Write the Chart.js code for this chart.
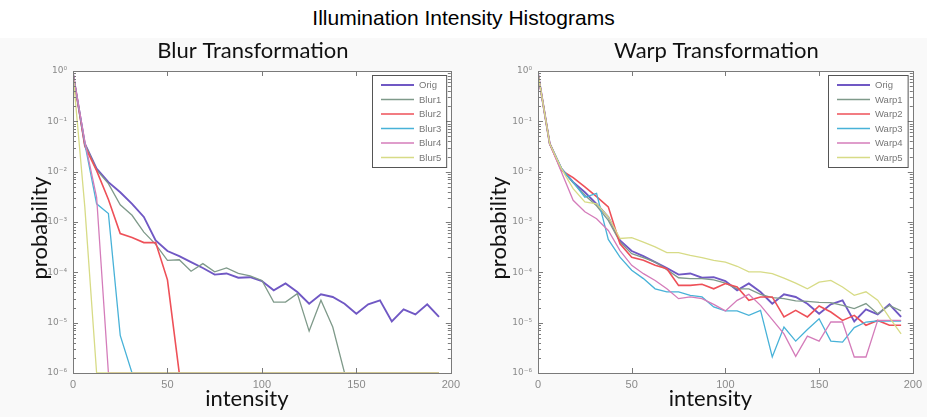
<!DOCTYPE html>
<html><head><meta charset="utf-8">
<script src="https://cdn.jsdelivr.net/npm/chart.js@4/dist/chart.umd.min.js"></script>
<style>
html,body{margin:0;padding:0;background:#fff;width:927px;height:417px;overflow:hidden;}
#main{position:absolute;left:0;top:6px;width:927px;text-align:center;font:21px "Liberation Sans",Arial,sans-serif;color:#000;line-height:24px;}
#fig{position:absolute;left:0;top:38px;width:927px;height:379px;background:#f9f9f9;}
canvas{position:absolute;top:0;}
</style></head><body>
<div id="main">Illumination Intensity Histograms</div>
<div id="fig"><canvas id="c1" width="465" height="379" style="left:0px"></canvas><canvas id="c2" width="462" height="379" style="left:465px"></canvas></div>
<script>
// ---- data ----
const intensity = [0, 6.25, 12.5, 18.75, 25, 31.25, 37.5, 43.75, 50, 56.25, 62.5, 68.75, 75, 81.25, 87.5, 93.75,
  100, 106.25, 112.5, 118.75, 125, 131.25, 137.5, 143.75, 150, 156.25, 162.5, 168.75, 175, 181.25, 187.5, 193.75];

const orig = [0.9, 0.036, 0.0115, 0.0062, 0.0039, 0.0023, 0.00126, 0.00043, 0.000265, 0.00021, 0.00016, 0.000122, 0.00009, 0.000095, 0.000078, 0.00008,
  0.000067, 4.4e-5, 6.0e-5, 4.07e-5, 2.38e-5, 3.66e-5, 3.24e-5, 2.38e-5, 1.51e-5, 2.31e-5, 2.78e-5, 1.06e-5, 1.84e-5, 1.46e-5, 2.31e-5, 1.30e-5];

const blur1 = [0.9, 0.036, 0.0108, 0.0058, 0.0022, 0.00136, 0.00063, 0.00036, 0.000173, 0.000178, 0.000105, 0.000149, 0.000102, 0.000122, 0.000095, 0.000085,
  0.000069, 2.57e-5, 2.57e-5, 3.77e-5, 6.8e-6, 2.78e-5, 8.2e-6, 1e-6, 1e-6, 1e-6, 1e-6, 1e-6, 1e-6, 1e-6, 1e-6, 1e-6];
const blur2 = [0.9, 0.032, 0.0105, 0.0028, 0.00059, 0.00049, 0.00039, 0.00039, 7.1e-5, 1e-6, 1e-6, 1e-6, 1e-6, 1e-6, 1e-6, 1e-6,
  1e-6, 1e-6, 1e-6, 1e-6, 1e-6, 1e-6, 1e-6, 1e-6, 1e-6, 1e-6, 1e-6, 1e-6, 1e-6, 1e-6, 1e-6, 1e-6];
const blur3 = [0.9, 0.036, 0.0023, 0.00147, 5.6e-6, 1e-6, 1e-6, 1e-6, 1e-6, 1e-6, 1e-6, 1e-6, 1e-6, 1e-6, 1e-6, 1e-6,
  1e-6, 1e-6, 1e-6, 1e-6, 1e-6, 1e-6, 1e-6, 1e-6, 1e-6, 1e-6, 1e-6, 1e-6, 1e-6, 1e-6, 1e-6, 1e-6];
const blur4 = [0.9, 0.04, 0.0031, 1e-6, 1e-6, 1e-6, 1e-6, 1e-6, 1e-6, 1e-6, 1e-6, 1e-6, 1e-6, 1e-6, 1e-6, 1e-6,
  1e-6, 1e-6, 1e-6, 1e-6, 1e-6, 1e-6, 1e-6, 1e-6, 1e-6, 1e-6, 1e-6, 1e-6, 1e-6, 1e-6, 1e-6, 1e-6];
const blur5 = [0.9, 0.002, 1e-6, 1e-6, 1e-6, 1e-6, 1e-6, 1e-6, 1e-6, 1e-6, 1e-6, 1e-6, 1e-6, 1e-6, 1e-6, 1e-6,
  1e-6, 1e-6, 1e-6, 1e-6, 1e-6, 1e-6, 1e-6, 1e-6, 1e-6, 1e-6, 1e-6, 1e-6, 1e-6, 1e-6, 1e-6, 1e-6];

const warp1 = [0.9, 0.036, 0.0115, 0.006, 0.0034, 0.0021, 0.00108, 0.0004, 0.000235, 0.000196, 0.00016, 0.000113, 7.8e-5, 7.5e-5, 7.5e-5, 7.1e-5,
  6.1e-5, 4.7e-5, 4.7e-5, 3.66e-5, 3.13e-5, 3.0e-5, 2.7e-5, 2.66e-5, 2.54e-5, 2.5e-5, 2.2e-5, 1.9e-5, 2.4e-5, 1.51e-5, 2.2e-5, 1.71e-5];
const warp2 = [0.9, 0.036, 0.0106, 0.0076, 0.005, 0.0032, 0.002, 0.00037, 0.0002, 0.000173, 0.000138, 0.000118, 5.5e-5, 5.5e-5, 5.8e-5, 4.7e-5,
  6.0e-5, 5.1e-5, 2.78e-5, 3.24e-5, 3.24e-5, 1.30e-5, 1.76e-5, 1.30e-5, 2.14e-5, 1.63e-5, 1.11e-5, 1.40e-5, 8.9e-6, 1.11e-5, 8.9e-6, 8.9e-6];
const warp3 = [0.9, 0.036, 0.0115, 0.0062, 0.0031, 0.0037, 0.00045, 0.0002, 0.00011, 7.5e-5, 4.7e-5, 4.1e-5, 4.1e-5, 3.5e-5, 3.24e-5, 2.05e-5,
  1.71e-5, 1.71e-5, 1.40e-5, 1.76e-5, 2.08e-6, 8.2e-6, 4.3e-6, 7.3e-6, 1.2e-5, 4.3e-6, 4.1e-6, 8.0e-6, 1.03e-5, 1.08e-5, 1.08e-5, 1.08e-5];
const warp4 = [0.9, 0.036, 0.0098, 0.0027, 0.0016, 0.00116, 0.00068, 0.00027, 0.000138, 9.4e-5, 6.9e-5, 4.7e-5, 3.0e-5, 3.24e-5, 3.0e-5, 2.31e-5,
  1.71e-5, 2.78e-5, 3.66e-5, 2.21e-5, 1.15e-5, 6.0e-6, 2.14e-6, 5.4e-6, 4.3e-6, 1.03e-5, 1.03e-5, 2.08e-6, 2.08e-6, 1.11e-5, 1.11e-5, 1.11e-5];
const warp5 = [0.9, 0.036, 0.0115, 0.0046, 0.0025, 0.0023, 0.00126, 0.00047, 0.00049, 0.0004, 0.00032, 0.000246, 0.000246, 0.000218, 0.000196, 0.000173,
  0.00016, 0.000132, 0.000102, 0.000102, 0.000094, 0.000077, 0.000061, 0.000047, 0.000064, 0.000069, 0.000051, 0.000035, 0.000041, 0.000028, 1.26e-5, 6.0e-6];

const blurLabels = ['Orig', 'Blur1', 'Blur2', 'Blur3', 'Blur4', 'Blur5'];
const warpLabels = ['Orig', 'Warp1', 'Warp2', 'Warp3', 'Warp4', 'Warp5'];
const yTickValues = [1e-6, 1e-5, 1e-4, 1e-3, 1e-2, 1e-1, 1];
const yTickLabels = ['10\u207B\u2076', '10\u207B\u2075', '10\u207B\u2074', '10\u207B\u00B3', '10\u207B\u00B2', '10\u207B\u00B9', '10\u2070'];
const xTickValues = [0, 50, 100, 150, 200];

// ---- styles ----
const colors = ['#7058c4', '#7f9a8a', '#ee5058', '#48b2d8', '#d47cba', '#d7db86'];
const widths = [1.9, 1.3, 1.6, 1.3, 1.3, 1.3];

const matlabPlugin = {
  id: 'matlab',
  beforeDraw(chart) {
    const a = chart.chartArea, ctx = chart.ctx;
    ctx.save(); ctx.fillStyle = '#ffffff';
    ctx.fillRect(a.left, a.top, a.right - a.left, a.bottom - a.top);
    ctx.restore();
  },
  afterDraw(chart, args, o) {
    const a = chart.chartArea, ctx = chart.ctx;
    const xs = chart.scales.x, ys = chart.scales.y;
    ctx.save();
    // box
    ctx.strokeStyle = '#7a7a7a'; ctx.lineWidth = 1;
    ctx.strokeRect(Math.round(a.left) + 0.5, Math.round(a.top) + 0.5, Math.round(a.right - a.left), Math.round(a.bottom - a.top));
    // ticks
    ctx.beginPath();
    for (let d = -6; d <= 0; d++) {
      for (let m = 1; m <= 9; m++) {
        const v = m * Math.pow(10, d);
        if (v > 1) break;
        const py = Math.round(ys.getPixelForValue(v)) + 0.5;
        const L = m === 1 ? 5 : 3;
        ctx.moveTo(a.left, py); ctx.lineTo(a.left + L, py);
        ctx.moveTo(a.right, py); ctx.lineTo(a.right - L, py);
      }
    }
    xTickValues.forEach(v => {
      const px = Math.round(xs.getPixelForValue(v)) + 0.5;
      ctx.moveTo(px, a.bottom); ctx.lineTo(px, a.bottom - 5);
      ctx.moveTo(px, a.top); ctx.lineTo(px, a.top + 5);
    });
    ctx.stroke();

    // titles
    const cx = (a.left + a.right) / 2, cy = (a.top + a.bottom) / 2;
    ctx.fillStyle = '#111';
    ctx.textAlign = 'center'; ctx.textBaseline = 'middle';
    ctx.font = '22px Lato, "Open Sans", sans-serif';
    ctx.fillText(o.title, cx - 9, a.top - 20);
    ctx.fillText(o.xTitle, cx - 15, a.bottom + 26);
    ctx.save();
    ctx.translate(a.left - o.yTitleOffset, cy + 6);
    ctx.rotate(-Math.PI / 2);
    ctx.fillText(o.yTitle, 0, 0);
    ctx.restore();

    // legend
    const ds = chart.data.datasets;
    ctx.font = '9.5px "Liberation Sans", Arial, sans-serif';
    let tw = 0; ds.forEach(d => tw = Math.max(tw, ctx.measureText(d.label).width));
    const lineLen = 33, boxW = 9 + lineLen + 5 + tw + 5, rowH = 14.5, boxH = 92;
    const bx = Math.round(a.right - 5 - boxW), by = Math.round(a.top + 4);
    ctx.fillStyle = '#ffffff';
    ctx.fillRect(bx, by, boxW, boxH);
    ctx.strokeStyle = '#555'; ctx.lineWidth = 1;
    ctx.strokeRect(bx + 0.5, by + 0.5, boxW, boxH);
    ctx.textAlign = 'left';
    ds.forEach((d, i) => {
      const ry = by + 10 + i * rowH;
      ctx.strokeStyle = d.borderColor; ctx.lineWidth = d.borderWidth;
      ctx.beginPath(); ctx.moveTo(bx + 9, ry); ctx.lineTo(bx + 9 + lineLen, ry); ctx.stroke();
      ctx.fillStyle = '#777';
      ctx.fillText(d.label, bx + 9 + lineLen + 5, ry + 0.5);
    });
    ctx.restore();
  }
};

function makeChart(id, labels, series, title, yTitleOffset, rightPad) {
  const datasets = series.map((s, i) => ({
    label: labels[i],
    data: intensity.map((x, j) => ({x: x, y: s[j]})),
    borderColor: colors[i],
    backgroundColor: colors[i],
    borderWidth: widths[i],
    pointRadius: 0,
    tension: 0,
    fill: false,
    order: -i
  }));
  return new Chart(document.getElementById(id), {
    type: 'line',
    data: {datasets},
    options: {
      responsive: false,
      animation: false,
      devicePixelRatio: 1,
      layout: {padding: {top: 33, right: rightPad, bottom: 0, left: 0}},
      plugins: {
        legend: {display: false},
        tooltip: {enabled: false},
        matlab: {title: title, xTitle: 'intensity', yTitle: 'probability', yTitleOffset: yTitleOffset}
      },
      scales: {
        x: {
          type: 'linear', min: 0, max: 200,
          grid: {display: false, drawTicks: false},
          border: {display: false},
          afterBuildTicks: s => { s.ticks = xTickValues.map(v => ({value: v})); },
          afterFit: s => { s.height = 44; },
          ticks: {color: '#8a8a8a', font: {size: 11, family: '"Liberation Sans", Arial, sans-serif'}, padding: 5, maxRotation: 0}
        },
        y: {
          type: 'logarithmic', min: 1e-6, max: 1,
          grid: {display: false, drawTicks: false},
          border: {display: false},
          afterBuildTicks: s => { s.ticks = yTickValues.map(v => ({value: v})); },
          afterFit: s => { s.width = 73; },
          ticks: {
            color: '#8a8a8a', font: {size: 9, family: '"DejaVu Sans", sans-serif'}, padding: 6, autoSkip: false,
            callback: (v, i) => yTickLabels[i]
          }
        }
      }
    },
    plugins: [matlabPlugin]
  });
}

makeChart('c1', blurLabels, [orig, blur1, blur2, blur3, blur4, blur5], 'Blur Transformation', 33, 5);
makeChart('c2', warpLabels, [orig, warp1, warp2, warp3, warp4, warp5], 'Warp Transformation', 39, 3);
</script>
</body></html>
